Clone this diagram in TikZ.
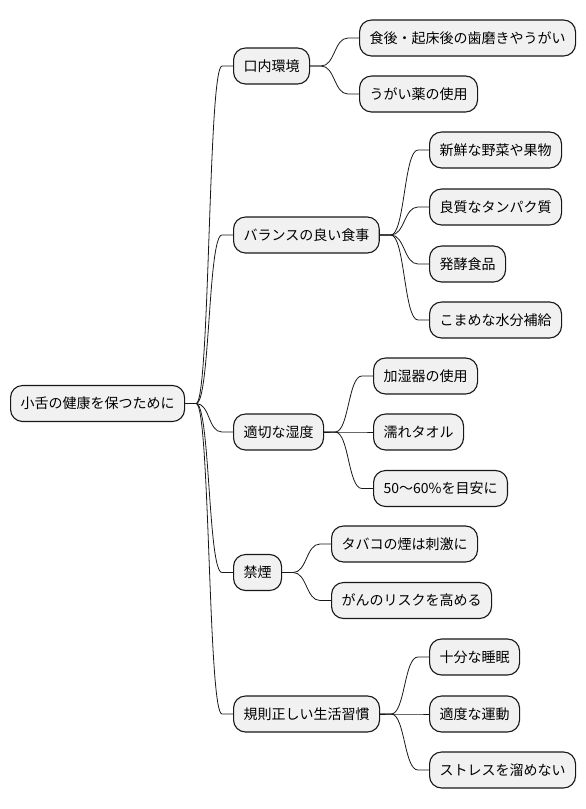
\documentclass[tikz,border=0pt]{standalone}
\usepackage{fontspec}
\setmainfont{Noto Sans CJK JP}
\definecolor{boxfill}{HTML}{F1F1F1}
\definecolor{boxline}{HTML}{181818}

\tikzset{
  topic/.style={draw=boxline, fill=boxfill, line width=1.1pt, rounded corners=12pt,
    minimum height=36pt, inner xsep=10pt, inner ysep=0pt, anchor=west, font=\fontsize{14pt}{16pt}\selectfont},
  branch/.style={draw=boxline, line width=0.8pt}
}

\begin{document}
\begin{tikzpicture}[x=1pt, y=-1pt]
 \useasboundingbox (0,0) rectangle (586,809);
 % centre topic
 \node[topic] (root) at (10,403.5) {小舌の健康を保つために};
 % first level
 \node[topic] (oral)  at (233,66)  {口内環境};
 \node[topic] (diet)  at (233,235) {バランスの良い食事};
 \node[topic] (humid) at (233,432) {適切な湿度};
 \node[topic] (smoke) at (233,572.5) {禁煙};
 \node[topic] (habit) at (233,714) {規則正しい生活習慣};
 % second level
 \node[topic] (brush)  at (359,38)  {食後・起床後の歯磨きやうがい};
 \node[topic] (gargle) at (359,94)  {うがい薬の使用};
 \node[topic] (veg)    at (429,150) {新鮮な野菜や果物};
 \node[topic] (protein) at (429,207) {良質なタンパク質};
 \node[topic] (ferment) at (429,264) {発酵食品};
 \node[topic] (water)  at (429,320) {こまめな水分補給};
 \node[topic] (device) at (373,376) {加湿器の使用};
 \node[topic] (towel)  at (373,432) {濡れタオル};
 \node[topic] (level)  at (373,488.5) {50〜60\%を目安に};
 \node[topic] (irritant) at (331,544) {タバコの煙は刺激に};
 \node[topic] (cancer) at (331,600.5) {がんのリスクを高める};
 \node[topic] (sleep)  at (429,657) {十分な睡眠};
 \node[topic] (sport)  at (429,714) {適度な運動};
 \node[topic] (stress) at (429,770) {ストレスを溜めない};
 % branches
 \foreach \p/\c in {root/oral, root/diet, root/humid, root/smoke, root/habit,
     oral/brush, oral/gargle, diet/veg, diet/protein, diet/ferment, diet/water,
     humid/device, humid/towel, humid/level, smoke/irritant, smoke/cancer,
     habit/sleep, habit/sport, habit/stress}
   \draw[branch] (\p.east) -- ++(11,0) .. controls +(14,0) and +(-14,0) .. ([xshift=-11pt]\c.west) -- (\c.west);
\end{tikzpicture}
\end{document}
